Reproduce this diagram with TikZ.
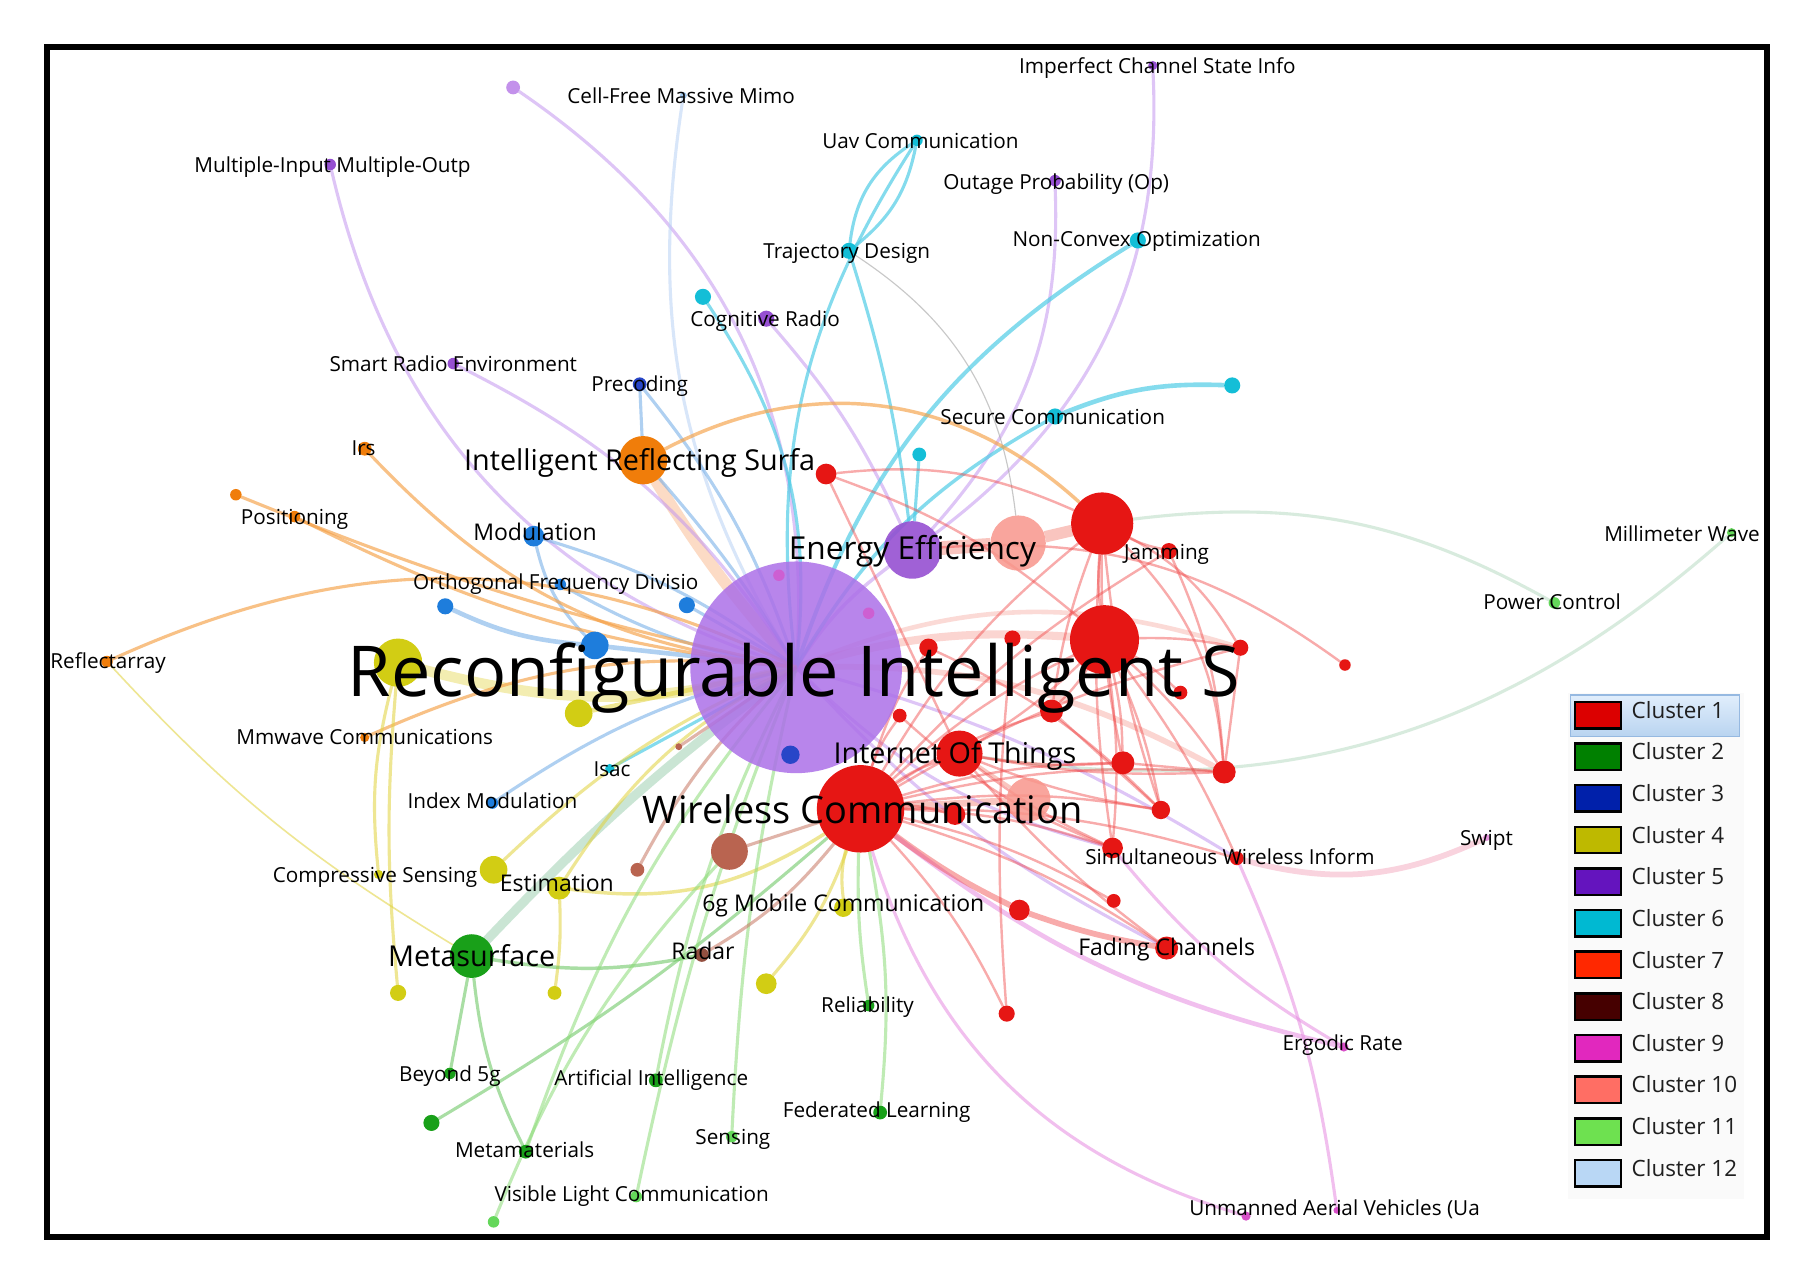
\documentclass[tikz,border=0pt]{standalone}
\usepackage{fontspec}
\setmainfont{Open Sans}
\pgfdeclarelayer{bg}
\pgfdeclarelayer{edges}
\pgfdeclarelayer{labels}
\pgfsetlayers{bg,edges,main,labels}
% node colours
\definecolor{nRed}{RGB}{230,22,20}
\definecolor{nSal}{RGB}{248,150,140}
\definecolor{nOr}{RGB}{240,125,10}
\definecolor{nPur}{RGB}{150,80,210}
\definecolor{nRis}{RGB}{172,112,232}
\definecolor{nLav}{RGB}{195,145,235}
\definecolor{nCy}{RGB}{20,190,215}
\definecolor{nBl}{RGB}{30,125,220}
\definecolor{nDBl}{RGB}{40,70,200}
\definecolor{nYe}{RGB}{210,205,20}
\definecolor{nGr}{RGB}{25,160,25}
\definecolor{nLGr}{RGB}{100,215,90}
\definecolor{nBr}{RGB}{185,100,80}
\definecolor{nPk}{RGB}{215,80,200}
\definecolor{nLB}{RGB}{160,200,240}
% edge colours
\definecolor{ceP}{RGB}{195,150,240}
\definecolor{cePk}{RGB}{230,140,225}
\definecolor{cePkL}{RGB}{245,175,195}
\definecolor{ceC}{RGB}{80,205,230}
\definecolor{ceB}{RGB}{110,170,230}
\definecolor{ceLB}{RGB}{185,210,245}
\definecolor{ceO}{RGB}{245,160,70}
\definecolor{ceOL}{RGB}{250,190,150}
\definecolor{ceY}{RGB}{225,210,60}
\definecolor{ceG}{RGB}{100,195,90}
\definecolor{ceGT}{RGB}{150,205,170}
\definecolor{ceLG}{RGB}{140,220,120}
\definecolor{ceGG}{RGB}{185,220,195}
\definecolor{ceBr}{RGB}{200,120,100}
\definecolor{ceR}{RGB}{240,70,70}
\definecolor{ceS}{RGB}{245,150,140}
% legend colours
\definecolor{L1}{RGB}{220,0,0}
\definecolor{L2}{RGB}{0,128,0}
\definecolor{L3}{RGB}{0,32,170}
\definecolor{L4}{RGB}{190,185,0}
\definecolor{L5}{RGB}{100,20,190}
\definecolor{L6}{RGB}{0,185,210}
\definecolor{L7}{RGB}{255,40,0}
\definecolor{L8}{RGB}{70,0,0}
\definecolor{L9}{RGB}{225,40,190}
\definecolor{L10}{RGB}{255,110,100}
\definecolor{L11}{RGB}{110,225,80}
\definecolor{L12}{RGB}{185,215,245}
\definecolor{hlTop}{RGB}{225,238,252}
\definecolor{hlBot}{RGB}{185,212,240}
\definecolor{hlLine}{RGB}{150,185,225}

\tikzset{
  dot/.style={circle, inner sep=0pt, outer sep=0pt, draw=none},
  lbl/.style={inner sep=0pt, anchor=mid, yshift=-4pt, font=\fontsize{18}{20}\selectfont},
  lblm/.style={inner sep=0pt, anchor=mid, yshift=-4pt, font=\fontsize{20}{22}\selectfont},
  big/.style={inner sep=0pt, anchor=base, yshift=-2pt},
  edge/.style={line width=2.7, draw opacity=0.55},
  eP/.style={edge, draw=ceP},
  ePk/.style={edge, draw=cePk},
  ePkL/.style={edge, draw=cePkL},
  eC/.style={edge, draw=ceC, draw opacity=0.7},
  eB/.style={edge, draw=ceB},
  eLB/.style={edge, draw=ceLB},
  eO/.style={edge, draw=ceO, draw opacity=0.65},
  eOL/.style={edge, draw=ceOL},
  eY/.style={edge, draw=ceY},
  eG/.style={edge, draw=ceG},
  eGT/.style={edge, draw=ceGT},
  eLG/.style={edge, draw=ceLG},
  eGG/.style={edge, draw=ceGG},
  eBr/.style={edge, draw=ceBr},
  eR/.style={edge, draw=ceR, line width=2.1, draw opacity=0.45},
  eS/.style={edge, draw=ceS, draw opacity=0.55},
  swatch/.style={draw=black, line width=2.2},
  legtext/.style={inner sep=0pt, anchor=mid west, text=black!88, font=\fontsize{19.5}{21}\selectfont},
}

\begin{document}
\begin{tikzpicture}[x=1pt, y=-1pt]
\useasboundingbox (0,0) rectangle (1568,1114);
\begin{pgfonlayer}{bg}
\fill[white] (0,0) rectangle (1568,1114);
\end{pgfonlayer}

% ---------------- nodes ----------------
\node[dot, fill=nRis, fill opacity=0.85, minimum size=184] (ris) at (692,580) {};
\node[dot, fill=nPur, fill opacity=0.9, minimum size=50] (ee) at (793,478) {};
\node[dot, fill=nOr, minimum size=42] (irs) at (559,400) {};
\node[dot, fill=nRed, minimum size=76] (wc) at (748,703) {};
\node[dot, fill=nRed, minimum size=40] (iot) at (834,655) {};
\node[dot, fill=nRed, minimum size=54] (rA) at (958,455) {};
\node[dot, fill=nRed, minimum size=60] (rB) at (960,556) {};
\node[dot, fill=nSal, fill opacity=0.85, minimum size=48] (sA) at (885,472) {};
\node[dot, fill=nSal, fill opacity=0.85, minimum size=38] (sB) at (894,695) {};
\node[dot, fill=nYe, minimum size=42] (yBig) at (346,576) {};
\node[dot, fill=nYe, minimum size=24] (y2) at (503,620) {};
\node[dot, fill=nBl, minimum size=24] (b1) at (517,561) {};
\node[dot, fill=nBl, minimum size=18] (mod) at (464,466) {};
\node[dot, fill=nBl, minimum size=14] (b2) at (387,527) {};
\node[dot, fill=nBl, minimum size=14] (b3) at (597,526) {};
\node[dot, fill=nBl, minimum size=10] (ofdm) at (487,508) {};
\node[dot, fill=nDBl, minimum size=16] (b4) at (687,656) {};
\node[dot, fill=nDBl, minimum size=12] (prec) at (556,334) {};
\node[dot, fill=nBl, minimum size=10] (idx) at (428,698) {};
\node[dot, fill=nOr, minimum size=12] (irsO) at (317,390) {};
\node[dot, fill=nOr, minimum size=10] (pos) at (256,449) {};
\node[dot, fill=nOr, minimum size=10] (o2) at (205,430) {};
\node[dot, fill=nOr, minimum size=10] (refl) at (93,575) {};
\node[dot, fill=nOr, minimum size=8] (mmw) at (317,641) {};
\node[dot, fill=nCy, minimum size=10] (uav) at (797,122) {};
\node[dot, fill=nCy, minimum size=14] (traj) at (738,218) {};
\node[dot, fill=nCy, minimum size=14] (ncvx) at (989,209) {};
\node[dot, fill=nCy, minimum size=14] (c2) at (611,258) {};
\node[dot, fill=nCy, minimum size=14] (c3) at (1071,335) {};
\node[dot, fill=nCy, minimum size=14] (sec) at (917,362) {};
\node[dot, fill=nCy, minimum size=12] (c4) at (799,395) {};
\node[dot, fill=nCy, minimum size=8] (isac) at (530,668) {};
\node[dot, fill=nLav, minimum size=12] (p1) at (446,76) {};
\node[dot, fill=nLB, minimum size=6] (cfm) at (594,83) {};
\node[dot, fill=nPur, minimum size=10] (mimo) at (287,143) {};
\node[dot, fill=nPur, minimum size=14] (cog) at (666,277) {};
\node[dot, fill=nPur, minimum size=10] (srE) at (394,316) {};
\node[dot, fill=nPur, minimum size=10] (out) at (917,157) {};
\node[dot, fill=nPur, minimum size=8] (imp) at (1002,57) {};
\node[dot, fill=nRed, minimum size=18] (r1) at (718,412) {};
\node[dot, fill=nRed, minimum size=14] (jam) at (1016,479) {};
\node[dot, fill=nRed, minimum size=14] (r3) at (1078,563) {};
\node[dot, fill=nRed, minimum size=10] (r4) at (1169,578) {};
\node[dot, fill=nRed, minimum size=12] (r5) at (1026,602) {};
\node[dot, fill=nRed, minimum size=20] (r6) at (914,618) {};
\node[dot, fill=nRed, minimum size=14] (r7) at (880,555) {};
\node[dot, fill=nRed, minimum size=16] (r8) at (807,563) {};
\node[dot, fill=nRed, minimum size=12] (r9) at (782,622) {};
\node[dot, fill=nRed, minimum size=20] (r10) at (976,663) {};
\node[dot, fill=nRed, minimum size=20] (r11) at (1064,671) {};
\node[dot, fill=nRed, minimum size=16] (r12) at (1009,704) {};
\node[dot, fill=nRed, minimum size=18] (r13) at (967,737) {};
\node[dot, fill=nRed, minimum size=12] (swi) at (1075,746) {};
\node[dot, fill=nRed, minimum size=12] (r15) at (968,783) {};
\node[dot, fill=nRed, minimum size=18] (r16) at (886,791) {};
\node[dot, fill=nRed, minimum size=20] (fad) at (1014,824) {};
\node[dot, fill=nRed, minimum size=14] (r18) at (875,881) {};
\node[dot, fill=nRed, minimum size=18] (r19) at (830,708) {};
\node[dot, fill=nPk, fill opacity=0.7, minimum size=10] (pk1) at (677,500) {};
\node[dot, fill=nPk, fill opacity=0.7, minimum size=10] (pk2) at (755,533) {};
\node[dot, fill=nBr, minimum size=32] (br1) at (634,740) {};
\node[dot, fill=nBr, minimum size=12] (br2) at (554,756) {};
\node[dot, fill=nBr, minimum size=6] (br3) at (590,649) {};
\node[dot, fill=nBr!80!black, minimum size=12] (radar) at (610,830) {};
\node[dot, fill=nYe, minimum size=16] (g6) at (733,789) {};
\node[dot, fill=nYe, minimum size=18] (y3) at (666,855) {};
\node[dot, fill=nYe, minimum size=24] (est1) at (429,756) {};
\node[dot, fill=nYe, minimum size=20] (est) at (486,772) {};
\node[dot, fill=nYe, minimum size=8] (cs) at (329,760) {};
\node[dot, fill=nYe, minimum size=14] (y4) at (346,863) {};
\node[dot, fill=nYe, minimum size=12] (y5) at (482,863) {};
\node[dot, fill=nGr, minimum size=10] (rel) at (755,874) {};
\node[dot, fill=nGr, minimum size=38] (meta) at (410,831) {};
\node[dot, fill=nGr, minimum size=10] (b5g) at (391,933) {};
\node[dot, fill=nGr, minimum size=14] (g2) at (375,976) {};
\node[dot, fill=nGr, minimum size=12] (mm) at (457,1001) {};
\node[dot, fill=nGr, minimum size=12] (ai) at (570,939) {};
\node[dot, fill=nLGr, minimum size=10] (sens) at (636,988) {};
\node[dot, fill=nGr, minimum size=12] (fed) at (765,967) {};
\node[dot, fill=nLGr, minimum size=10] (vlc) at (553,1040) {};
\node[dot, fill=nLGr, minimum size=10] (g3) at (429,1062) {};
\node[dot, fill=nLGr, minimum size=8] (mw) at (1505,463) {};
\node[dot, fill=nLGr, minimum size=10] (pc) at (1351,524) {};
\node[dot, fill=nPk, minimum size=8] (erg) at (1168,910) {};
\node[dot, fill=nPk, minimum size=8] (uav2) at (1083,1057) {};
\node[dot, fill=nPk, minimum size=6] (uav3) at (1162,1052) {};
\node[dot, fill=nPk!60, minimum size=6] (swipt) at (1292,728) {};

% ---------------- edges ----------------
\begin{pgfonlayer}{edges}
% wide bands
\draw[eS, line width=12] (ee) -- (sA);
\draw[eS, line width=10] (sA) -- (rA);
\draw[eS, line width=7, draw opacity=0.4] (ris.center) to[bend left=10] (rB);
\draw[eS, line width=5, draw opacity=0.4] (ris.center) to[bend left=15] (r11);
\draw[eS, line width=4, draw opacity=0.35] (ris.center) to[bend left=20] (r3);
\draw[eS, line width=6] (sB) -- (wc);
\draw[eS, line width=3] (iot) -- (sB);
\draw[eOL, line width=10, draw opacity=0.55] (irs) to[bend right=5] (ris.center);
\draw[eY, line width=9, draw opacity=0.4] (yBig) to[bend right=15] (ris.center);
\draw[eGT, line width=8, draw opacity=0.5] (meta) to[bend left=5] (ris.center);
% purple
\draw[eP] (p1) to[bend left=30] (ris.center);
\draw[eP] (mimo) to[bend right=30] (ris.center);
\draw[eP] (srE) to[bend left=15] (ris.center);
\draw[eP] (cog) to[bend left=8] (ee);
\draw[eP] (out) to[bend left=22] (ee);
\draw[eP] (imp) to[bend left=28] (ee);
\draw[eP, line width=3] (ee) to[bend right=10] (ris.center);
\draw[eP] (ris.center) to[bend right=15] (r13);
\draw[eP] (ris.center) to[bend left=8] (swi);
\draw[eP] (ris.center) to[bend right=10] (fad);
% pink
\draw[ePk, line width=4] (wc) to[bend right=12] (erg);
\draw[ePk] (wc) to[bend right=28] (uav2);
\draw[ePk] (swi) to[bend left=8] (uav3);
\draw[ePk] (r13) to[bend right=10] (erg);
\draw[ePkL, line width=5] (swi) to[bend right=20] (swipt);
% cyan
\draw[eC] (uav) to[bend right=25] (traj);
\draw[eC] (uav) to[bend left=20] (traj);
\draw[eC] (uav) to[bend right=20] (ris.center);
\draw[eC] (traj) to[bend left=5] (ee);
\draw[eC, line width=1, draw=gray!60] (traj) to[bend left=25] (sA);
\draw[eC, line width=3.5] (ncvx) to[bend right=20] (ris.center);
\draw[eC, line width=4] (c3) to[bend right=12] (sec);
\draw[eC, line width=3] (sec) to[bend right=15] (ris.center);
\draw[eC] (c2) to[bend left=20] (ris.center);
\draw[eC] (c4) -- (ee);
\draw[eC] (isac) -- (ris.center);
% blue
\draw[eB] (prec) -- (irs);
\draw[eLB] (cfm) to[bend right=20] (ris.center);
\draw[eB] (mod) to[bend right=15] (b1);
\draw[eB] (mod) to[bend left=10] (ris.center);
\draw[eB, line width=4] (b2) to[bend right=10] (b1);
\draw[eB, line width=4] (b1) -- (ris.center);
\draw[eB] (b3) -- (ris.center);
\draw[eB] (ofdm) to[bend right=10] (ris.center);
\draw[eB] (idx) to[bend left=10] (ris.center);
\draw[eB] (prec) to[bend left=10] (ris.center);
\draw[eB] (irs) to[bend left=5] (ris.center);
% orange
\draw[eO, line width=3] (irs) to[bend left=35] (rA);
\draw[eO] (irsO) to[bend right=20] (ris.center);
\draw[eO] (pos) to[bend right=10] (ris.center);
\draw[eO] (o2) to[bend right=5] (ris.center);
\draw[eO] (refl) to[bend left=25] (ris.center);
\draw[eO] (mmw) to[bend left=15] (ris.center);
% yellow
\draw[eY, line width=4] (y2) -- (ris.center);
\draw[eY] (est1) to[bend left=10] (ris.center);
\draw[eY] (est) to[bend left=15] (ris.center);
\draw[eY, line width=3] (est) to[bend right=20] (wc);
\draw[eY] (cs) to[bend left=10] (yBig);
\draw[eY] (y4) to[bend left=5] (yBig);
\draw[eY] (y5) to[bend right=5] (est);
\draw[eY] (g6) to[bend left=10] (wc);
\draw[eY] (y3) to[bend right=10] (wc);
\draw[eY, line width=1.4] (refl) to[bend right=8] (meta);
% green
\draw[eG] (meta) -- (b5g);
\draw[eG] (meta) to[bend right=10] (mm);
\draw[eG, line width=3] (meta) to[bend right=10] (radar);
\draw[eG] (g2) to[bend right=5] (wc);
\draw[eLG] (ai) to[bend left=8] (ris.center);
\draw[eLG] (sens) to[bend left=5] (ris.center);
\draw[eLG] (fed) to[bend right=8] (wc);
\draw[eLG] (rel) to[bend left=5] (wc);
\draw[eLG] (vlc) to[bend left=5] (ris.center);
\draw[eLG] (g3) to[bend left=10] (br1);
\draw[eLG] (mm) to[bend left=10] (ris.center);
\draw[eGG] (mw) to[bend left=25] (iot);
\draw[eGG] (rA) to[bend left=18] (pc);
% brown
\draw[eBr] (br1) -- (wc);
\draw[eBr] (br2) to[bend left=10] (ris.center);
\draw[eBr] (radar) to[bend right=10] (wc);
\draw[eBr] (br3) -- (ris.center);
% red
\foreach \t in {iot,rB,r10,r11,r12,r13,swi,r15,fad,r18,r6,r3,jam,r19,r9,r8}
  \draw[eR] (wc) to[bend left=8] (\t);
\draw[eR] (wc) to[bend left=10] (rA);
\draw[eR, line width=5] (wc) to[bend right=5] (r16);
\draw[eR, line width=5] (r16) to[bend right=5] (fad);
\foreach \t in {rB,jam,r10,r6,r12,r13}
  \draw[eR] (rA) to[bend right=6] (\t);
\draw[eR] (rA) to[bend left=20] (r11);
\draw[eR] (rA) to[bend left=15] (r3);
\foreach \t in {r10,r11,r12,r3,r5,r6,iot,r13,swi}
  \draw[eR] (rB) to[bend left=6] (\t);
\foreach \t in {r10,r11,r13,r12,fad}
  \draw[eR] (iot) to[bend right=6] (\t);
\draw[eR] (r1) to[bend left=15] (rA);
\draw[eR] (r1) to[bend left=10] (rB);
\draw[eR] (r1) -- (iot);
\draw[eR] (r7) to[bend right=5] (r18);
\draw[eR] (r10) -- (r11);
\draw[eR] (r3) -- (r11);
\draw[eR] (jam) to[bend left=10] (r11);
\draw[eR] (ee) to[bend left=20] (r4);
\draw[eR] (r6) -- (r12);
\draw[eR] (r8) to[bend left=10] (r12);
\draw[eR] (r9) to[bend right=10] (r13);
\end{pgfonlayer}

% ---------------- labels ----------------
\begin{pgfonlayer}{labels}
\node[big, font=\fontsize{61}{64}\selectfont] (tRis) at (690,603) {Reconfigurable Intelligent S};
\node[big, font=\fontsize{25}{28}\selectfont] (tIrs) at (556,407) {Intelligent Reflecting Surfa};
\node[big, font=\fontsize{27.5}{30}\selectfont] (tEe) at (793,484) {Energy Efficiency};
\node[big, font=\fontsize{25}{28}\selectfont] (tIot) at (830,662) {Internet Of Things};
\node[big, font=\fontsize{33}{36}\selectfont] (tWc) at (750,714) {Wireless Communication};
\node[big, font=\fontsize{25}{28}\selectfont] (tMeta) at (410,838) {Metasurface};
\node[lbl] (tCfm) at (592,83) {Cell-Free Massive Mimo};
\node[lbl] (tMimo) at (289,143) {Multiple-Input Multiple-Outp};
\node[lbl] (tImp) at (1006,57) {Imperfect Channel State Info};
\node[lbl] (tUav) at (800,122) {Uav Communication};
\node[lbl] (tOut) at (918,158) {Outage Probability (Op)};
\node[lbl] (tTraj) at (736,218) {Trajectory Design};
\node[lbl] (tNcvx) at (988,208) {Non-Convex Optimization};
\node[lbl] (tCog) at (665,277) {Cognitive Radio};
\node[lbl] (tSr) at (394,316) {Smart Radio Environment};
\node[lbl] (tPrec) at (556,334) {Precoding};
\node[lbl] (tSec) at (915,362) {Secure Communication};
\node[lbl] (tIrsO) at (316,389) {Irs};
\node[lbl] (tPos) at (256,449) {Positioning};
\node[lblm] (tMod) at (465,463) {Modulation};
\node[lbl] (tJam) at (1014,480) {Jamming};
\node[lbl] (tMw) at (1462,464) {Millimeter Wave};
\node[lbl] (tOfdm) at (483,506) {Orthogonal Frequency Divisio};
\node[lbl] (tPc) at (1349,523) {Power Control};
\node[lbl] (tRefl) at (94,574) {Reflectarray};
\node[lbl] (tMmw) at (317,640) {Mmwave Communications};
\node[lbl] (tIsac) at (532,668) {Isac};
\node[lbl] (tIdx) at (428,696) {Index Modulation};
\node[lbl] (tSwipt) at (1292,728) {Swipt};
\node[lbl] (tSwi) at (1069,745) {Simultaneous Wireless Inform};
\node[lbl] (tCs) at (326,760) {Compressive Sensing};
\node[lblm] (tEst) at (484,768) {Estimation};
\node[lblm] (tG6) at (733,786) {6g Mobile Communication};
\node[lblm] (tFad) at (1014,824) {Fading Channels};
\node[lblm] (tRadar) at (611,827) {Radar};
\node[lbl] (tRel) at (754,873) {Reliability};
\node[lbl] (tErg) at (1167,906) {Ergodic Rate};
\node[lbl] (tB5g) at (391,933) {Beyond 5g};
\node[lbl] (tAi) at (566,937) {Artificial Intelligence};
\node[lbl] (tFed) at (762,965) {Federated Learning};
\node[lbl] (tSens) at (637,988) {Sensing};
\node[lbl] (tMm) at (456,999) {Metamaterials};
\node[lbl] (tVlc) at (549,1038) {Visible Light Communication};
\node[lbl] (tUav2) at (1160,1050) {Unmanned Aerial Vehicles (Ua};
\end{pgfonlayer}

% ---------------- legend ----------------
\fill[black!2] (1363,602) rectangle (1516,1042);
\draw[draw=hlLine, line width=1.2, top color=hlTop, bottom color=hlBot] (1365,604) rectangle (1512,640);
\foreach \i in {1,...,12} {
  \pgfmathsetmacro{\yy}{621.5+36.2*(\i-1)}
  \draw[swatch, fill=L\i] (1369,\yy-11.5) rectangle (1409,\yy+11.5);
  \node[legtext] (leg\i) at (1418,\yy) {Cluster \i};
}

% ---------------- frame ----------------
\draw[line width=4.8] (41,41) rectangle (1536,1075);
\end{tikzpicture}
\end{document}
